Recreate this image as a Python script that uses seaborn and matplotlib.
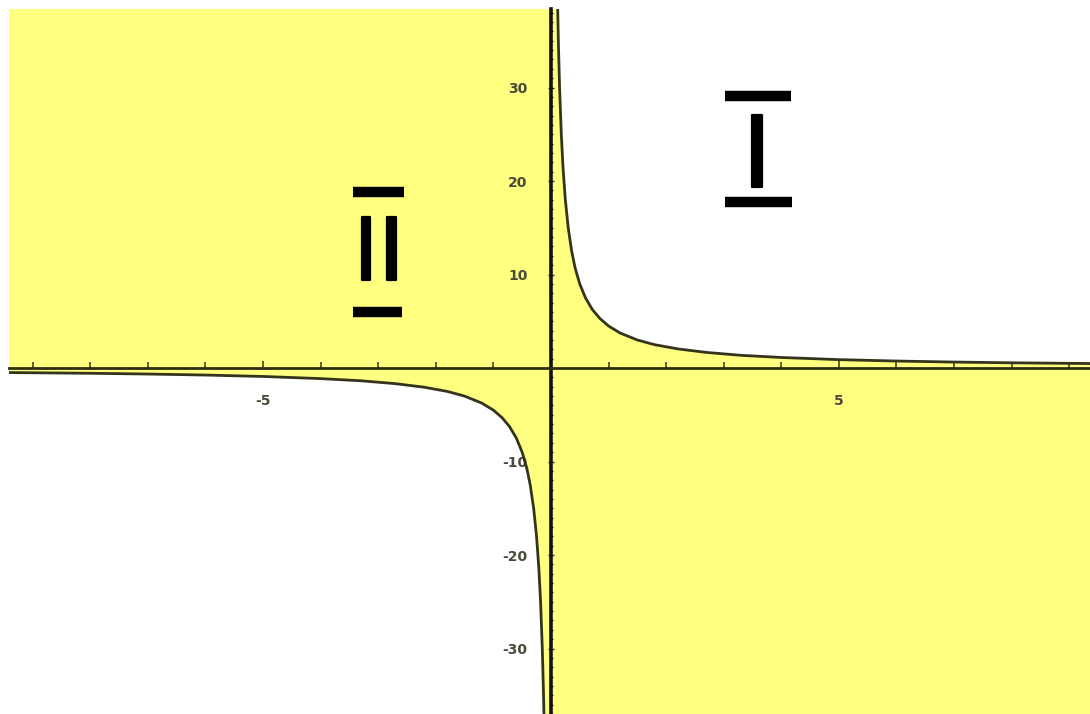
import matplotlib
matplotlib.use("Agg")
import matplotlib.pyplot as plt
import matplotlib.patheffects as pe
from matplotlib.ticker import FixedLocator, NullFormatter, FixedFormatter
import pandas as pd
import seaborn as sns

# Branch in quadrant I (x > 0)
x_right = [0.115, 0.13, 0.15, 0.18, 0.21, 0.25, 0.30, 0.36, 0.42, 0.50, 0.60,
           0.72, 0.85, 1.0, 1.2, 1.5, 1.8, 2.2, 2.7, 3.3, 4.0, 5.0, 6.0, 7.0,
           8.0, 9.4]
y_right = [39.1, 34.6, 30.0, 25.0, 21.4, 18.0, 15.0, 12.5, 10.7, 9.0, 7.5,
           6.25, 5.3, 4.5, 3.75, 3.0, 2.5, 2.05, 1.67, 1.36, 1.13, 0.90, 0.75,
           0.64, 0.56, 0.48]

# Branch in quadrant III (x < 0)
x_left = [-9.45, -8.0, -7.0, -6.0, -5.0, -4.0, -3.3, -2.7, -2.2, -1.8, -1.5,
          -1.2, -1.0, -0.85, -0.72, -0.60, -0.50, -0.42, -0.36, -0.30, -0.25,
          -0.21, -0.18, -0.15, -0.13, -0.118]
y_left = [-0.48, -0.56, -0.64, -0.75, -0.90, -1.13, -1.36, -1.67, -2.05, -2.5,
          -3.0, -3.75, -4.5, -5.3, -6.25, -7.5, -9.0, -10.7, -12.5, -15.0,
          -18.0, -21.4, -25.0, -30.0, -34.6, -38.1]

x_ticks_labeled = [-5, 5]
x_ticks_minor = list(range(-9, 10))
y_ticks_labeled = [-30, -20, -10, 10, 20, 30]
y_ticks_minor = list(range(-37, 39))

xlim = (-9.41, 9.36)
ylim = (-37.0, 38.4)

YELLOW = "#FFFF80"
CURVE = "#34341c"

sns.set_theme(style="white")
plt.rcParams["font.family"] = ["DejaVu Sans"]

fig = plt.figure(figsize=(10.9, 7.14), dpi=100)
fig.patch.set_facecolor("white")
ax = fig.add_axes([9 / 1090, 0, 1081 / 1090, 705 / 714])
ax.set_facecolor("white")
ax.set_xlim(*xlim)
ax.set_ylim(*ylim)

# Shaded regions: quadrants II and IV plus the area between each branch and the x-axis
ax.fill_between([xlim[0], 0], 0, ylim[1], color=YELLOW, lw=0, zorder=0)
ax.fill_between([0, xlim[1]], ylim[0], 0, color=YELLOW, lw=0, zorder=0)
ax.fill_between([0] + x_right, 0, [ylim[1] + 5] + y_right, color=YELLOW, lw=0, zorder=0)
ax.fill_between(x_left + [0], y_left + [ylim[0] - 5], 0, color=YELLOW, lw=0, zorder=0)

right = pd.DataFrame({"x": x_right, "y": y_right})
left = pd.DataFrame({"x": x_left, "y": y_left})
sns.lineplot(data=right, x="x", y="y", sort=False, color=CURVE, lw=2.0, ax=ax, zorder=3)
sns.lineplot(data=left, x="x", y="y", sort=False, color=CURVE, lw=2.0, ax=ax, zorder=3)
ax.set_xlabel("")
ax.set_ylabel("")

# Axes through the origin
for side in ("top", "right"):
    ax.spines[side].set_visible(False)
ax.spines["left"].set_position(("data", 0))
ax.spines["bottom"].set_position(("data", 0))
ax.spines["left"].set_color("#111111")
ax.spines["left"].set_linewidth(2.6)
ax.spines["bottom"].set_color("#2e2e14")
ax.spines["bottom"].set_linewidth(2.0)
ax.spines["left"].set_zorder(4)
ax.spines["bottom"].set_zorder(4)

ax.xaxis.set_major_locator(FixedLocator(x_ticks_labeled))
ax.xaxis.set_major_formatter(FixedFormatter([str(v) for v in x_ticks_labeled]))
ax.xaxis.set_minor_locator(FixedLocator(x_ticks_minor))
ax.xaxis.set_minor_formatter(NullFormatter())
ax.yaxis.set_major_locator(FixedLocator(y_ticks_labeled))
ax.yaxis.set_major_formatter(FixedFormatter([str(v) for v in y_ticks_labeled]))
ax.yaxis.set_minor_locator(FixedLocator(y_ticks_minor))
ax.yaxis.set_minor_formatter(NullFormatter())

ax.tick_params(axis="x", which="both", bottom=True, direction="in", length=4, width=1.3,
               color="#55552a", pad=19, labelsize=10, labelcolor="#4a4a3a")
ax.tick_params(axis="x", which="major", length=5)
ax.tick_params(axis="y", which="both", left=True, direction="inout", length=3, width=1.0,
               color="#2a2a2a", pad=15, labelsize=10, labelcolor="#4a4a3a")
ax.tick_params(axis="y", which="major", length=4)
for lab in ax.get_xticklabels() + ax.get_yticklabels():
    lab.set_fontweight("bold")

# Roman numeral region labels
stroke = [pe.withStroke(linewidth=1.6, foreground="black")]
ax.text(3.58, 19.36, "I", fontsize=71, ha="center", va="baseline", color="black",
        zorder=5, path_effects=stroke)
ax.plot([3.02, 4.17], [29.1, 29.1], solid_capstyle="butt", color="black", lw=7.5, zorder=5)
ax.plot([3.02, 4.19], [17.75, 17.75], solid_capstyle="butt", color="black", lw=7.5, zorder=5)

ax.text(-2.99, 9.41, "II", fontsize=62, ha="center", va="baseline", color="black",
        zorder=5, path_effects=stroke)
ax.plot([-3.44, -2.55], [18.8, 18.8], solid_capstyle="butt", color="black", lw=7.5, zorder=5)
ax.plot([-3.44, -2.58], [6.0, 6.0], solid_capstyle="butt", color="black", lw=7.5, zorder=5)

fig.savefig("out.png", dpi=100, facecolor="white")
